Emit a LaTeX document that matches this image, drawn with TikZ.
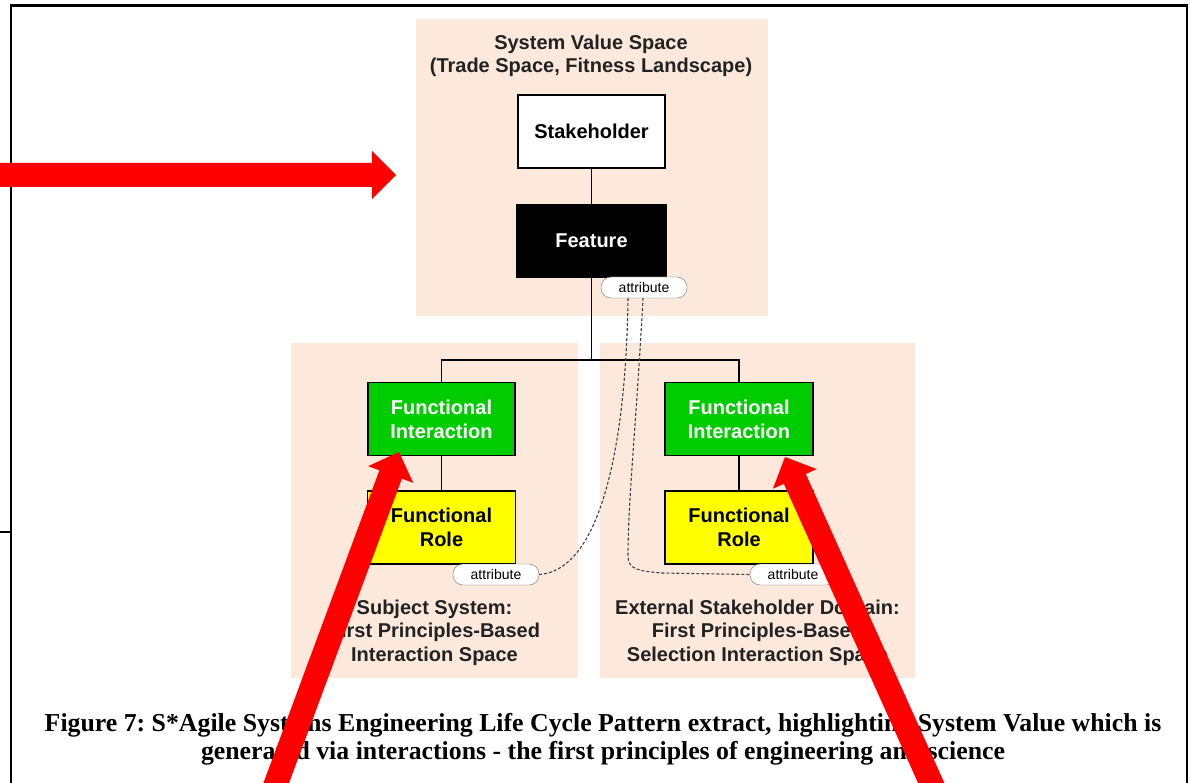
\documentclass[tikz,border=0pt]{standalone}
\usepackage{fontspec}
\setmainfont{Liberation Serif}
\newfontfamily\arialfont{Liberation Sans}
\usetikzlibrary{calc}
\definecolor{peach}{HTML}{FCE9DC}
\definecolor{fgreen}{HTML}{00CC00}
\definecolor{fyellow}{HTML}{FFFF00}
\definecolor{txtgray}{HTML}{222222}
\definecolor{hlred}{HTML}{FF0000}
\frenchspacing

% solid block arrow: #1 name prefix, #2 tail, #3 tip
\newcommand\redblockarrow[3]{%
  \coordinate (#1-h) at ($(#3)!24pt!(#2)$);
  \fill[hlred] ($(#2)!12pt!90:(#3)$) -- ($(#1-h)!12pt!90:(#3)$)
    -- ($(#1-h)!24pt!90:(#3)$) -- (#3) -- ($(#1-h)!24pt!-90:(#3)$)
    -- ($(#1-h)!12pt!-90:(#3)$) -- ($(#2)!12pt!-90:(#3)$) -- cycle;
}

\begin{document}
\begin{tikzpicture}[x=1pt,y=-1pt,
  panel/.style={fill=peach,draw=none},
  box/.style={draw=black,line width=1.2pt,minimum width=148pt,minimum height=73pt,
    inner sep=0pt,align=center,font=\arialfont\bfseries\fontsize{20}{24}\selectfont},
  pill/.style={draw=black!55,fill=white,rounded corners=10pt,minimum width=86pt,
    minimum height=21pt,inner sep=0pt,font=\arialfont\fontsize{14}{15}\selectfont},
  link/.style={draw=black,line width=1.1pt},
  dlink/.style={draw=black!75,line width=1.1pt,dash pattern=on 3pt off 2pt},
  lbl/.style={align=center,text=txtgray,inner sep=0pt,
    font=\arialfont\bfseries\fontsize{20}{23.5}\selectfont},
  frameline/.style={line width=2.2pt,draw=black}
]
\clip (0,0) rectangle (1190,783);
\fill[white] (0,0) rectangle (1190,783);

% page frame
\draw[frameline] (11,790) -- (11,5.5) -- (1187,5.5) -- (1187,790);
\draw[line width=1.5pt] (-5,532) -- (11,532);

% shaded spaces
\fill[panel] (416,19) rectangle (768,316);
\fill[panel] (291,343) rectangle (578,678);
\fill[panel] (600,343) rectangle (915,678);

% space titles
\node[lbl] (ttl) at (591,56)
  {System Value Space\\(Trade Space, Fitness Landscape)};
\node[lbl] (lsub) at (434.5,632.5) {Subject System:\\First Principles-Based\\Interaction Space};
\node[lbl] (lext) at (757.5,632.5) {External Stakeholder Domain:\\First Principles-Based\\Selection Interaction Space};

% elements
\node[box,fill=white,minimum width=147pt] (stake) at (591.5,131.5) {Stakeholder};
\node[box,fill=black,text=white,minimum width=150pt,minimum height=72pt] (feat) at (591.5,241) {Feature};
\node[box,fill=fgreen,text=white,minimum width=147pt] (fi1) at (441.5,419) {Functional\\Interaction};
\node[box,fill=fgreen,text=white] (fi2) at (739,419) {Functional\\Interaction};
\node[box,fill=fyellow,text=black] (fr1) at (441.5,527.5) {Functional\\Role};
\node[box,fill=fyellow,text=black] (fr2) at (739,527.5) {Functional\\Role};

% structure links
\coordinate (split) at (591.5,360);
\draw[link] (stake.south) -- (feat.north);
\draw[link] (feat.south) -- (split) -| (fi1.north);
\draw[link] (split) -| (fi2.north);
\draw[link] (fi1.south) -- (fr1.north);
\draw[link] (fi2.south) -- (fr2.north);

% attribute tags
\node[pill] (ptop) at (644,287.5) {attribute};
\node[pill] (pl) at (496,574.5) {attribute};
\node[pill] (pr) at (793,574.5) {attribute};

% attribute traces
\coordinate (bend) at (628,556);
\draw[dlink] ($(ptop.south)+(-16,0)$) .. controls ($(ptop.south)+(-18,152)$)
  and ($(pl.east)+(60,-4)$) .. (pl.east);
\draw[dlink] ($(ptop.south)+(-1,0)$) .. controls ($(ptop.south)+(-8,130)$)
  and (628,500) .. (bend) .. controls (628,570) and (640,571) .. (662,573) -- (pr.west);

% caption
\node[align=center,inner sep=0pt,font=\bfseries\fontsize{25.8}{28}\selectfont] (cap) at (603,739.5)
  {Figure 7: S*Agile Systems Engineering Life Cycle Pattern extract, highlighting System Value which is\\
   generated via interactions - the first principles of engineering and science};

% highlight arrows
\coordinate (a1t) at (-10,175);
\coordinate (a1p) at (396,175);
\redblockarrow{a1}{a1t}{a1p}
\coordinate (a2t) at (264,816);
\coordinate (a2p) at (399,452);
\redblockarrow{a2}{a2t}{a2p}
\coordinate (a3t) at (946,816);
\coordinate (a3p) at (785,457);
\redblockarrow{a3}{a3t}{a3p}
\end{tikzpicture}
\end{document}
